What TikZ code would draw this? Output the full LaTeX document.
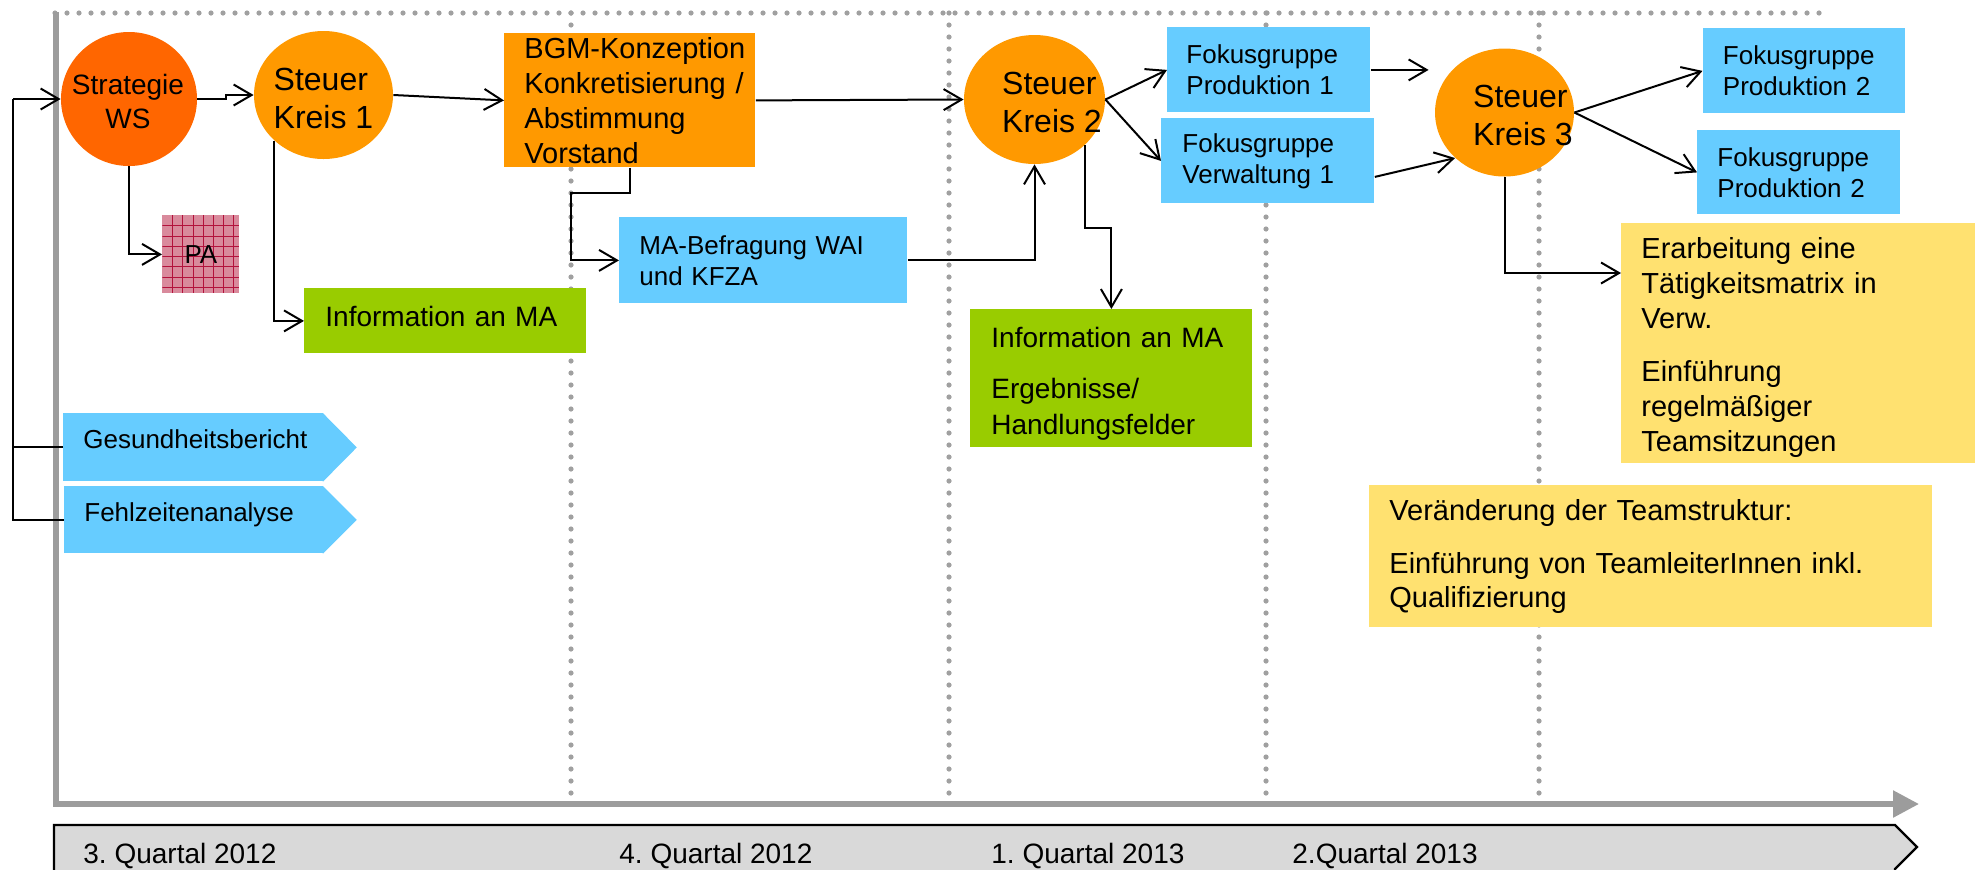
\documentclass[tikz,border=0pt]{standalone}
\usepackage{fontspec}
\setmainfont{Liberation Sans}
\usetikzlibrary{arrows.meta,shapes.geometric}
\hyphenpenalty=10000
\exhyphenpenalty=10000
\definecolor{stratorange}{HTML}{FF6600}
\definecolor{korange}{HTML}{FF9900}
\definecolor{kblue}{HTML}{66CCFF}
\definecolor{kgreen}{HTML}{99CC00}
\definecolor{kyellow}{HTML}{FFE170}
\definecolor{dotgray}{HTML}{A0A0A0}
\definecolor{axisgray}{HTML}{9C9C9C}
\definecolor{tlgray}{HTML}{D9D9D9}
\definecolor{papink}{HTML}{D98A9C}
\definecolor{pagridcol}{HTML}{B3123C}
\newcommand{\fsz}[2]{\fontsize{#1}{#2}\selectfont}
\tikzset{
  dotline/.style={draw=dotgray, line width=2.6pt, line cap=round, dash pattern=on 0pt off 6pt},
  axisline/.style={draw=axisgray, line width=2.75pt},
  conn/.style={draw=black, line width=1pt, -{Straight Barb[length=9pt,width=10.5pt]}},
  plainline/.style={draw=black, line width=1pt},
  kcirc/.style={ellipse, inner sep=0pt},
  sklab/.style={font=\fsz{16pt}{19pt}, align=left, inner sep=0pt},
  strlab/.style={font=\fsz{14pt}{17pt}, align=center, inner sep=0pt},
  kbox/.style={rectangle, anchor=north west, inner ysep=0pt, align=left},
  qtext/.style={font=\fsz{14pt}{17pt}, anchor=base west, inner sep=0pt},
  pagridline/.style={draw=pagridcol, line width=0.5pt},
}
\begin{document}
\frenchspacing
\begin{tikzpicture}[x=0.5pt,y=-0.5pt]
\useasboundingbox (0,0) rectangle (1975,869);

% dotted grid
\draw[dotline] (55,13) -- (1822,13);
\foreach \xx in {571,949,1266,1539}{
  \draw[dotline] (\xx,13) -- (\xx,800);
}

% axes
\draw[axisline] (56,12) -- (56,806.5);
\draw[axisline, -{Triangle[length=13pt,width=13pt]}] (53,804) -- (1919,804);

% timeline bar
\filldraw[fill=tlgray, draw=black, line width=1.1pt] (54,895) -- (54,825) -- (1895,825) -- (1917,847) -- (1895,869) -- (1895,895) -- cycle;
\node[qtext] (q1) at (83,863) {3. Quartal 2012};
\node[qtext] (q2) at (619,863) {4. Quartal 2012};
\node[qtext] (q3) at (991,863) {1. Quartal 2013};
\node[qtext] (q4) at (1292,863) {2.Quartal 2013};

% circles
\node[kcirc, fill=stratorange, minimum width=68pt, minimum height=67pt,
  label={[strlab, xshift=-0.5pt, yshift=-1pt]center:{Strategie\\WS}}] (STR) at (129,99) {};
\node[kcirc, fill=korange, minimum width=69.5pt, minimum height=64pt,
  label={[sklab, yshift=-1.75pt]center:{Steuer\\Kreis 1}}] (SK1) at (323.5,95) {};
\node[kcirc, fill=korange, minimum width=70.5pt, minimum height=64.5pt,
  label={[sklab, xshift=8.75pt, yshift=-1.25pt]center:{Steuer\\Kreis 2}}] (SK2) at (1034.5,99.5) {};
\node[kcirc, fill=korange, minimum width=69.5pt, minimum height=64pt,
  label={[sklab, xshift=9.25pt, yshift=-1.5pt]center:{Steuer\\Kreis 3}}] (SK3) at (1504.5,112.5) {};

% PA
\node[rectangle, fill=papink, minimum width=38.5pt, minimum height=39pt, inner sep=0pt, anchor=north west, font=\fsz{13pt}{15.5pt},
  path picture={
    \foreach \ii in {1,...,7}{
      \draw[pagridline] ([xshift=\ii*5.1pt]path picture bounding box.north west) -- ([xshift=\ii*5.1pt]path picture bounding box.south west);
      \draw[pagridline] ([yshift=-\ii*5.15pt]path picture bounding box.north west) -- ([yshift=-\ii*5.15pt]path picture bounding box.north east);
    }
  }] (PA) at (162,215) {PA};

% boxes
\node[kbox, fill=korange, minimum width=125.5pt, minimum height=67pt, inner xsep=10pt, text width=105.5pt, font=\fsz{14.5pt}{17.5pt}] (BGM) at (504,33)
  {BGM-Konzeption\\Konkretisierung~/\\Abstimmung\\Vorstand};
\node[kbox, fill=kblue, minimum width=144pt, minimum height=43pt, inner xsep=10pt, text width=124pt, font=\fsz{13pt}{15.5pt}] (MAB) at (619,217)
  {MA-Befragung WAI\\und KFZA};
\node[kbox, fill=kgreen, minimum width=141pt, minimum height=32.5pt, inner xsep=10.5pt, text width=120pt, text depth=4.5pt, font=\fsz{14pt}{17pt}] (INF1) at (304,288)
  {Information an MA};
\node[kbox, fill=kblue, minimum width=101.5pt, minimum height=42.5pt, inner xsep=9.5pt, text width=82.5pt, font=\fsz{13pt}{15.5pt}] (FP1) at (1167,27)
  {Fokusgruppe\\Produktion 1};
\node[kbox, fill=kblue, minimum width=106.5pt, minimum height=42.5pt, inner xsep=10.5pt, text width=85.5pt, font=\fsz{13pt}{15.5pt}] (FV1) at (1161,118)
  {Fokusgruppe\\Verwaltung 1};
\node[kbox, fill=kblue, minimum width=101.25pt, minimum height=42.5pt, inner xsep=10pt, text width=81.25pt, font=\fsz{13pt}{15.5pt}] (FPA) at (1702.5,28)
  {Fokusgruppe\\Produktion 2};
\node[kbox, fill=kblue, minimum width=101.5pt, minimum height=42pt, inner xsep=10pt, text width=81.5pt, font=\fsz{13pt}{15.5pt}] (FPB) at (1697,130)
  {Fokusgruppe\\Produktion 2};
\node[kbox, fill=kgreen, minimum width=141pt, minimum height=69pt, inner xsep=10.5pt, text width=120pt, text depth=41pt, font=\fsz{14pt}{18pt}] (INF2) at (970,309)
  {Information an MA\\[7.5pt]Ergebnisse/\\Handlungsfelder};
\node[kbox, fill=kyellow, minimum width=177pt, minimum height=120pt, inner xsep=10pt, text width=157pt, text depth=95.5pt, font=\fsz{14.5pt}{17.5pt}] (ERA) at (1621,223)
  {Erarbeitung eine\\Tätigkeitsmatrix in\\Verw.\\[9pt]Einführung\\regelmäßiger\\Teamsitzungen};
\node[kbox, fill=kyellow, minimum width=281.5pt, minimum height=71pt, inner xsep=10pt, text width=261.5pt, font=\fsz{14.5pt}{17pt}] (VER) at (1369,485)
  {Veränderung der Teamstruktur:\\[9.5pt]Einführung von TeamleiterInnen inkl.\\Qualifizierung};

% pentagon boxes
\node[kbox, fill=kblue, minimum width=130pt, minimum height=34pt, inner xsep=10pt, text width=110pt, text height=9pt, text depth=8pt, font=\fsz{13pt}{15.5pt}] (GB) at (63,413)
  {Gesundheitsbericht};
\fill[kblue] ([xshift=-0.5pt]GB.north east) -- ([xshift=16.5pt]GB.east) -- ([xshift=-0.5pt]GB.south east) -- cycle;
\node[kbox, fill=kblue, minimum width=129.5pt, minimum height=33.5pt, inner xsep=10pt, text width=109.5pt, text height=9pt, text depth=7.5pt, font=\fsz{13pt}{15.5pt}] (FZ) at (64,486)
  {Fehlzeitenanalyse};
\fill[kblue] ([xshift=-0.5pt]FZ.north east) -- ([xshift=16.5pt]FZ.east) -- ([xshift=-0.5pt]FZ.south east) -- cycle;

% connectors
\coordinate (brk) at (13,99);
\draw[conn] (brk) -- (STR.west);
\draw[plainline] (brk) |- (FZ.west);
\draw[plainline] (GB.west) -- (GB.west -| brk);

\draw[conn] (STR.east) -- ++(29,0) |- (SK1.west);
\draw[conn] (STR.south) |- (PA.west);
\draw[conn] (SK1.east) -- (BGM.west);
\draw[conn] (SK1.south west) |- (INF1.west);
\draw[conn] (BGM.south) -- ++(0,25) -- ++(-59,0) |- (MAB.west);
\draw[conn] (BGM.east) -- (SK2.west);
\draw[conn] (MAB.east) -| (SK2.south);
\draw[conn] (SK2.east) -- (FP1.west);
\draw[conn] (SK2.east) -- (FV1.west);
\draw[conn] (SK2.south east) -- ++(0,83) -| (INF2.north);
\draw[conn, shorten >=3pt] (FP1.east) -- (FP1.east -| SK3.west);
\draw[conn] ([yshift=-8pt]FV1.east) -- (SK3.south west);
\draw[conn] (SK3.east) -- (FPA.west);
\draw[conn] (SK3.east) -- (FPB.west);
\draw[conn] (SK3.south) |- ([yshift=-25pt]ERA.north west);
\end{tikzpicture}
\end{document}
